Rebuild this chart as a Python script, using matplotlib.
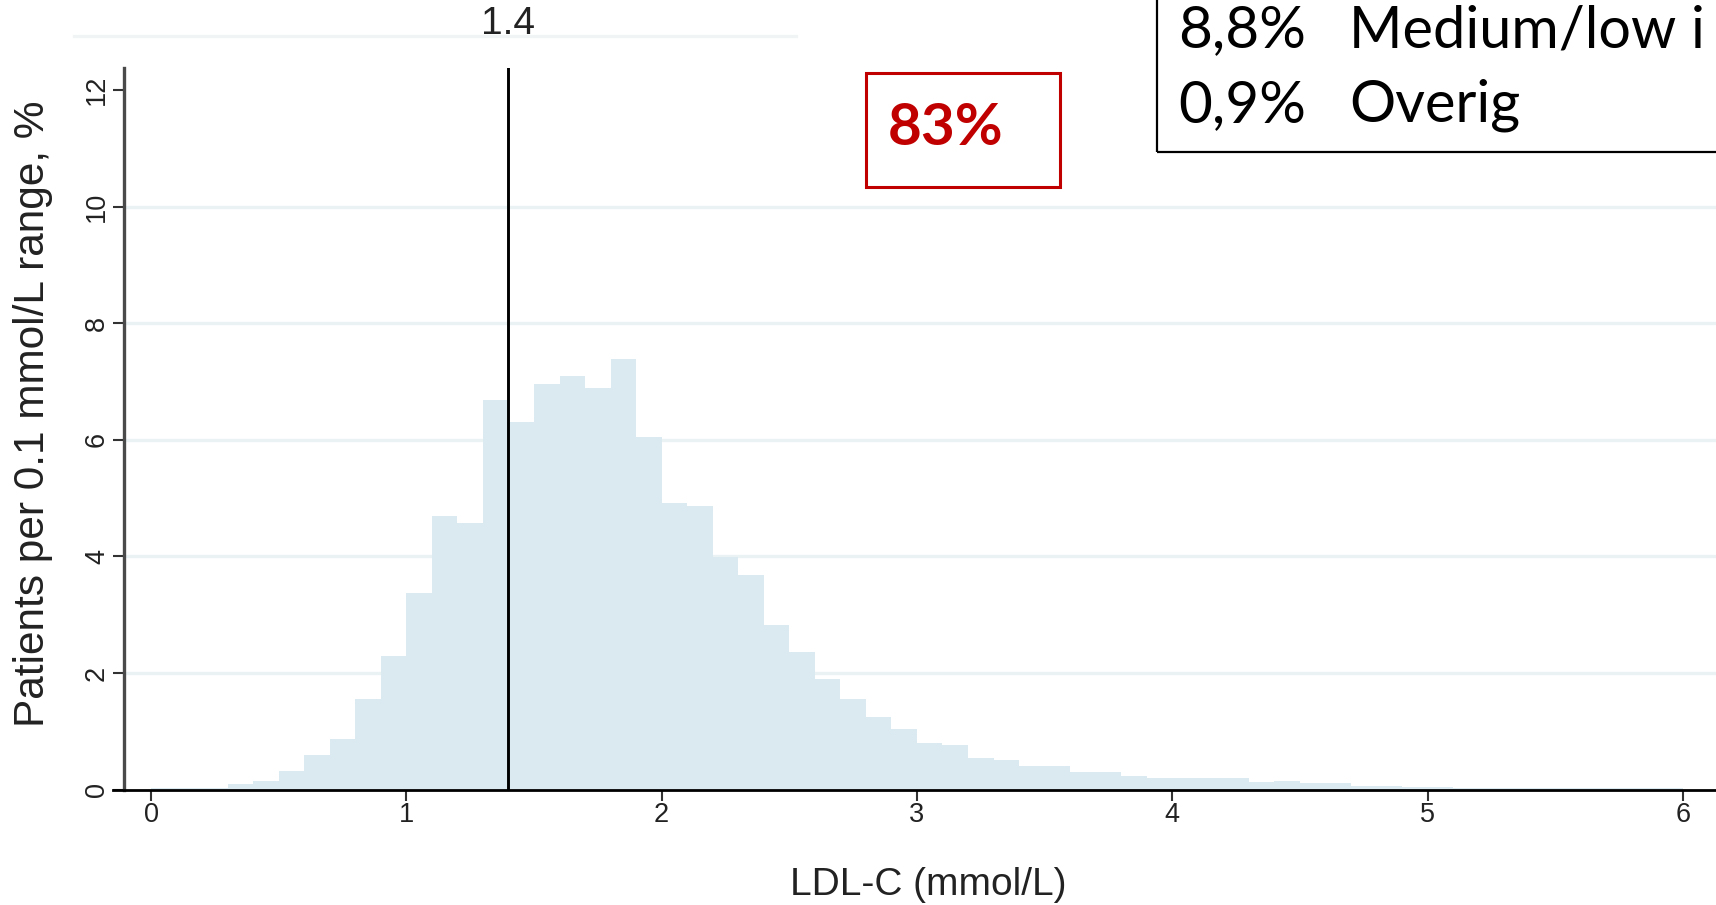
import numpy as np
import matplotlib
matplotlib.use("Agg")
import matplotlib.pyplot as plt
from matplotlib import transforms
from matplotlib.patches import Rectangle
from matplotlib.lines import Line2D

# ---------------- data ----------------
bin_width = 0.1
pct_per_bin = [0.02, 0.02, 0.02, 0.10, 0.14, 0.32, 0.60, 0.86, 1.55, 2.29,
               3.38, 4.70, 4.58, 6.69, 6.30, 6.95, 7.09, 6.89, 7.38, 6.05,
               4.91, 4.86, 3.99, 3.68, 2.83, 2.36, 1.90, 1.55, 1.25, 1.04,
               0.80, 0.77, 0.54, 0.50, 0.40, 0.40, 0.30, 0.30, 0.24, 0.20,
               0.20, 0.20, 0.20, 0.13, 0.15, 0.11, 0.11, 0.06, 0.06, 0.05,
               0.05, 0.03, 0.03, 0.03, 0.02, 0.02, 0.02, 0.02, 0.02, 0.02]
cutoff = 1.4
cutoff_label = "1.4"
xticks = [0, 1, 2, 3, 4, 5, 6]
yticks = [0, 2, 4, 6, 8, 10, 12]
xlabel = "LDL-C (mmol/L)"
ylabel = "Patients per 0.1 mmol/L range, %"
box_pct = "83%"
legend_pcts = ["8,8%", "0,9%"]
legend_names = ["Medium/low i", "Overig"]

# ---------------- figure ----------------
W, H = 1716, 905
fig = plt.figure(figsize=(W / 100, H / 100), dpi=100)
fig.patch.set_facecolor("white")

def fx(x):
    return x / W

def fy(ytop):
    return 1 - ytop / H

# axes: left spine at x=124 px, y=0 at 789.5 px from top, top at 68 px
x_left, x_right = -0.106, 6.2
y_bot, y_top = 0, 12.38
ax_l = 124
ax_r = 151 + x_right * 255.3
ax = fig.add_axes([fx(ax_l), fy(789.5), fx(ax_r - ax_l), (789.5 - 68) / H])
ax.set_xlim(x_left, x_right)
ax.set_ylim(y_bot, y_top)
ax.set_facecolor("white")

edges = np.round(np.arange(len(pct_per_bin) + 1) * bin_width, 2)
ax.stairs(pct_per_bin, edges, fill=True, color="#DAEAF0", linewidth=0, zorder=2)

# grid
for yv in yticks[1:-1]:
    ax.axhline(yv, color="#EBF2F4", lw=2.4, zorder=1)

ax.axvline(cutoff, color="black", lw=2.1, zorder=4)

# spines
for s in ["top", "right"]:
    ax.spines[s].set_visible(False)
ax.spines["left"].set_color("#4a4a4a")
ax.spines["left"].set_linewidth(2.4)
ax.spines["bottom"].set_color("black")
ax.spines["bottom"].set_linewidth(2.0)
ax.spines["bottom"].set_bounds(-0.15, x_right)
ax.spines["bottom"].set_clip_on(False)
ax.spines["bottom"].set_zorder(5)
ax.spines["left"].set_zorder(5)

ax.set_xticks(xticks)
ax.set_yticks(yticks)
ax.set_xticklabels([str(t) for t in xticks])
ax.set_yticklabels([str(t) for t in yticks], rotation=90, va="center")
ax.tick_params(axis="x", length=8, width=1.5, color="#333333", pad=1,
               labelsize=19.5, labelcolor="#222222")
ax.tick_params(axis="y", length=8, width=1.5, color="#333333", pad=2,
               labelsize=19.5, labelcolor="#222222")
for lab in ax.get_xticklabels() + ax.get_yticklabels():
    lab.set_fontfamily("Liberation Sans")

# axis labels as figure text
fig.text(fx(928), fy(895), xlabel, ha="center", va="baseline",
         fontsize=28, family="Liberation Sans", color="#222222")
fig.text(fx(33), fy(414), ylabel, ha="center", va="center", rotation=90,
         fontsize=30.5, family="Liberation Sans", color="#222222")

# cutoff label on top
trans = transforms.blended_transform_factory(ax.transData, fig.transFigure)
ax.text(cutoff, fy(24), cutoff_label, transform=trans, ha="center", va="center",
        fontsize=28, family="Liberation Sans", color="#222222", clip_on=False)

# faint line at top
fig.add_artist(Line2D([fx(74), fx(796)], [fy(36), fy(36)], color="#F0F4F5", lw=2.4))

# red box with percentage
fig.add_artist(Rectangle((fx(866), fy(187)), fx(194), 114 / H, fill=False,
                         edgecolor="#C00000", lw=2.2))
fig.text(fx(888), fy(145), box_pct, ha="left", va="baseline", fontsize=42,
         fontweight="bold", family="Lato", color="#C00000")

# legend-like box at top right (cut off by figure edge)
fig.add_artist(Rectangle((fx(1157), fy(151.7)), fx(700), 300 / H, fill=False,
                         edgecolor="black", lw=1.6))
baselines = [47, 122]
for pct, name, bl in zip(legend_pcts, legend_names, baselines):
    fig.text(fx(1178), fy(bl), pct, ha="left", va="baseline", fontsize=42,
             family="Lato", color="black")
    fig.text(fx(1349), fy(bl), name, ha="left", va="baseline", fontsize=41.5,
             family="Lato", color="black")

fig.savefig("out.png", dpi=100, facecolor="white")
